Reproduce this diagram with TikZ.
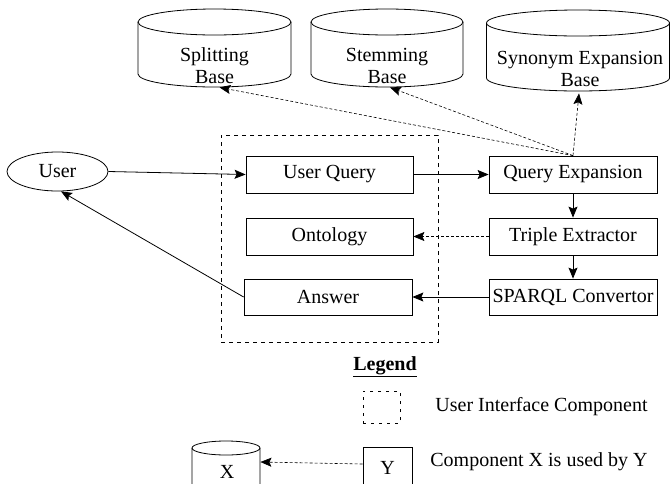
\documentclass[tikz,border=0pt]{standalone}
\usepackage{fontspec}
\setmainfont{Liberation Serif}
\usetikzlibrary{arrows.meta,shapes.geometric}
\newcommand\dbshape[5]{% cx rx T B ry
  \draw ({#1},{#3+#5}) ellipse [x radius=#2pt, y radius=#5pt];
  \draw ({#1-#2},{#3+#5}) -- ({#1-#2},{#4-#5}) arc[start angle=180, end angle=360, x radius=#2pt, y radius=#5pt] -- ({#1+#2},{#3+#5});
}
\begin{document}
\begin{tikzpicture}[x=1pt,y=-1pt, font=\fontsize{20}{22}\selectfont, line width=0.8pt,
  box/.style={draw, minimum width=167pt, minimum height=37pt, inner sep=0pt},
  ghost/.style={inner sep=0pt},
  flow/.style={-{Stealth[length=11pt,width=9pt,inset=2pt]}},
  uses/.style={-{Stealth[length=11pt,width=9pt,inset=2pt]}, dash pattern=on 3pt off 2pt, line width=0.6pt},
  uibox/.style={draw, dash pattern=on 4pt off 4pt, inner sep=0pt}]
\clip (0,0) rectangle (670,483);

% databases
\dbshape{214.5}{76.5}{9}{87}{13}
\dbshape{387}{76}{9}{87}{13}
\dbshape{578}{91.5}{10}{91}{13}
\node[ghost, minimum width=153pt, minimum height=78pt] (sb) at (214.5,48) {};
\node[ghost, minimum width=152pt, minimum height=78pt] (stb) at (387,48) {};
\node[ghost, minimum width=183pt, minimum height=81pt] (syb) at (578,50.5) {};
\node[align=center, inner sep=0pt] (sbl) at (214.5,66) {Splitting\\Base};
\node[align=center, inner sep=0pt] (stl) at (387,66) {Stemming\\Base};
\node[align=center, inner sep=0pt] (syl) at (580,68.5) {Synonym Expansion\\Base};

% user interface group
\node[uibox, minimum width=217pt, minimum height=207pt] (ui) at (329.5,238.5) {};
\node[box] (uq) at (329.5,174.5) {User Query};
\node[box] (onto) at (329.5,236.5) {Ontology};
\node[box, minimum width=168pt, minimum height=36pt] (ans) at (328,297) {Answer};

% pipeline
\node[box, minimum width=168pt] (qe) at (573,174.5) {Query Expansion};
\node[box, minimum width=168pt] (te) at (573,236.5) {Triple Extractor};
\node[box, minimum width=168pt, minimum height=36pt] (sq) at (573,297) {SPARQL Convertor};

\node[draw, ellipse, minimum width=101pt, minimum height=39pt, inner sep=0pt] (user) at (57.5,171.5) {User};

\draw[flow] (user.east) -- (uq.west);
\draw[flow] (uq) -- (qe);
\draw[flow] (qe) -- (te);
\draw[flow] (te) -- (sq);
\draw[uses] (te) -- (onto);
\draw[flow] (sq) -- (ans);
\draw[flow] (ans.west) -- (user.280);
\draw[uses] (qe.north) -- ([xshift=5pt]sb.south);
\draw[uses] (qe.north) -- ([xshift=3pt]stb.south);
\draw[uses] (qe.north) -- ([xshift=1pt,yshift=-2pt]syb.south);

% legend
\node[font=\bfseries\fontsize{20}{22}\selectfont] (leg) at (385,367) {\underline{Legend}};
\node[uibox, dash pattern=on 3pt off 5pt, minimum width=37pt, minimum height=32pt] (lui) at (381.5,407) {};
\node[anchor=west, inner sep=0pt] (luit) at (435,407) {User Interface Component};
\node[box, minimum width=49pt, minimum height=42pt] (ly) at (387.5,468) {Y};
\node[anchor=west, inner sep=0pt] (lyt) at (430,462) {Component X is used by Y};
\dbshape{226}{34}{441}{520}{7}
\node (lx) at (227,472) {X};
\node[ghost, minimum width=68pt, minimum height=40pt] (lxc) at (226,462) {};
\draw[uses] ([yshift=4pt]ly.west) -- (lxc.east);
\end{tikzpicture}
\end{document}
